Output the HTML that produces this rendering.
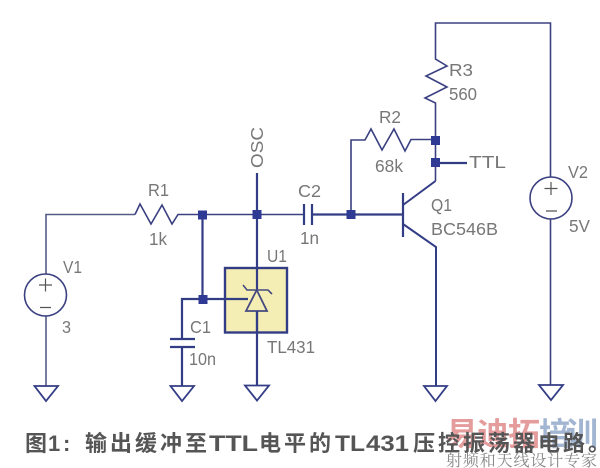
<!DOCTYPE html>
<html><head><meta charset="utf-8"><style>
html,body{margin:0;padding:0;background:#fff;width:600px;height:468px;overflow:hidden}
svg{display:block}
.w{fill:none;stroke:#3a4080;stroke-width:1.6}
.b{fill:none;stroke:#333d85;stroke-width:2.2}
.j{fill:#2f3a94}
text{font-family:"Liberation Sans","Noto Sans CJK SC",sans-serif}
.t{font-size:17.5px;fill:#777;font-weight:400}
.c{font-size:22px;font-weight:700;fill:#555;letter-spacing:3px}
</style></head><body>
<svg width="600" height="468" viewBox="0 0 600 468" xmlns="http://www.w3.org/2000/svg">
<rect x="225" y="268" width="62" height="64.5" fill="#f5eeb4" stroke="#333d85" stroke-width="2.4"/>
<!-- V1 -->
<path class="w" d="M135 214.5H46V274M46 316V386" style="stroke:#555b85"/>
<circle class="w" cx="45.5" cy="295" r="21"/>
<path d="M39 285H52M45.5 278.5V291.5M40 307.5H51" fill="none" stroke="#555" stroke-width="1.2"/>
<path class="b" d="M34.5 386H58L46 401Z" style="stroke-width:1.8"/>
<!-- R1 -->
<path class="w" d="M135 214.5L140 204L151 224L162 205L172 224L178 214.5H304"/>
<!-- node lines -->
<path class="b" d="M202.5 215V299M257 173V386M182 347V386M182 339V299H248"/>
<path class="b" d="M170 339H195M170 347H195"/>
<path class="b" d="M170.5 386H194L182 401Z" style="stroke-width:1.8"/>
<path class="b" d="M245 385.5H269L257 400.5Z" style="stroke-width:1.8"/>
<!-- TL431 symbol -->
<path d="M246 311H267L256.7 290Z" fill="#f5eeb4" stroke="#444a80" stroke-width="1.8"/>
<path d="M243 285L247 290H268L272 294" fill="none" stroke="#444a80" stroke-width="1.6"/>
<path class="b" d="M257 311V332"/>
<!-- C2 -->
<path class="b" d="M304 204V225M312 204V225M312 214.5H403M403 193V237"/>
<path class="w" d="M351 214V140H365L371 129L382 150L394 129L405 151L411 139.5H435.5"/>
<!-- Q1 -->
<path class="b" d="M403 205L435.5 181M403 224L436 247V386" style="stroke-width:2"/>
<path class="w" d="M435.5 181V103L425 98L447 87L426 76L447 66L435.5 59V23H550.5V177M550.5 219V385"/>
<path class="b" d="M435 163H467"/>
<path class="b" d="M424 386H447L435.5 401Z" style="stroke-width:1.8"/>
<path class="b" d="M539 385H563L551 400Z" style="stroke-width:1.8"/>
<circle class="w" cx="551" cy="198" r="21"/>
<path d="M544.5 188.5H557.5M551 182V195M546 211H557" fill="none" stroke="#555" stroke-width="1.2"/>
<!-- junctions -->
<rect class="j" x="198" y="210.5" width="9" height="9"/>
<rect class="j" x="252.5" y="210" width="9" height="9"/>
<rect class="j" x="198.5" y="295" width="9" height="9"/>
<rect class="j" x="346.5" y="210" width="9" height="9"/>
<rect class="j" x="431" y="136" width="9" height="9"/>
<rect class="j" x="431" y="158" width="9" height="9"/>
<!-- labels -->
<text class="t" x="148" y="196" textLength="21" lengthAdjust="spacingAndGlyphs">R1</text>
<text class="t" x="149" y="245" textLength="18" lengthAdjust="spacingAndGlyphs">1k</text>
<text class="t" x="63" y="273" textLength="19" lengthAdjust="spacingAndGlyphs">V1</text>
<text class="t" x="62" y="333" textLength="9" lengthAdjust="spacingAndGlyphs">3</text>
<text class="t" x="267" y="262" textLength="20" lengthAdjust="spacingAndGlyphs">U1</text>
<text class="t" x="267" y="353" textLength="48" lengthAdjust="spacingAndGlyphs">TL431</text>
<text class="t" x="190" y="333" textLength="21" lengthAdjust="spacingAndGlyphs">C1</text>
<text class="t" x="189" y="365" textLength="27" lengthAdjust="spacingAndGlyphs">10n</text>
<text class="t" transform="translate(263 168) rotate(-90)" textLength="41" lengthAdjust="spacingAndGlyphs">OSC</text>
<text class="t" x="298" y="197" textLength="23" lengthAdjust="spacingAndGlyphs">C2</text>
<text class="t" x="300" y="244" textLength="19" lengthAdjust="spacingAndGlyphs">1n</text>
<text class="t" x="379" y="123" textLength="22" lengthAdjust="spacingAndGlyphs">R2</text>
<text class="t" x="375" y="172" textLength="28" lengthAdjust="spacingAndGlyphs">68k</text>
<text class="t" x="449" y="76" textLength="24" lengthAdjust="spacingAndGlyphs">R3</text>
<text class="t" x="449" y="100" textLength="28" lengthAdjust="spacingAndGlyphs">560</text>
<text class="t" x="469" y="168" textLength="37" lengthAdjust="spacingAndGlyphs">TTL</text>
<text class="t" x="431" y="211" textLength="21" lengthAdjust="spacingAndGlyphs">Q1</text>
<text class="t" x="431" y="235" textLength="67" lengthAdjust="spacingAndGlyphs">BC546B</text>
<text class="t" x="568" y="178" textLength="20" lengthAdjust="spacingAndGlyphs">V2</text>
<text class="t" x="569" y="232" textLength="21" lengthAdjust="spacingAndGlyphs">5V</text>
<!-- watermark -->
<text x="446" y="445" font-size="32" font-weight="700" fill="#e49c9c" textLength="94" lengthAdjust="spacing">易迪拓</text>
<text x="539" y="445" font-size="32" font-weight="700" fill="#a2b6d2" textLength="59" lengthAdjust="spacing">培训</text>
<!-- caption -->
<text class="c" x="25" y="451">图</text>
<text class="c" x="48" y="451" style="letter-spacing:0">1</text>
<text class="c" x="63" y="451" style="letter-spacing:0">:</text>
<text class="c" x="85" y="451">输出缓冲至</text>
<text class="c" x="209" y="451" textLength="49" lengthAdjust="spacingAndGlyphs" style="letter-spacing:0">TTL</text>
<text class="c" x="259" y="451">电平的</text>
<text class="c" x="335" y="451" textLength="30" lengthAdjust="spacingAndGlyphs" style="letter-spacing:0">TL</text>
<text class="c" x="366" y="451" textLength="43" lengthAdjust="spacingAndGlyphs" style="letter-spacing:0">431</text>
<text class="c" x="413" y="451">压控振荡器电路。</text>
<text x="446" y="466" font-size="16" fill="#888" style="font-family:'Noto Serif CJK SC','Liberation Serif',serif" textLength="151" lengthAdjust="spacing">射频和天线设计专家</text>
</svg>
</body></html>
